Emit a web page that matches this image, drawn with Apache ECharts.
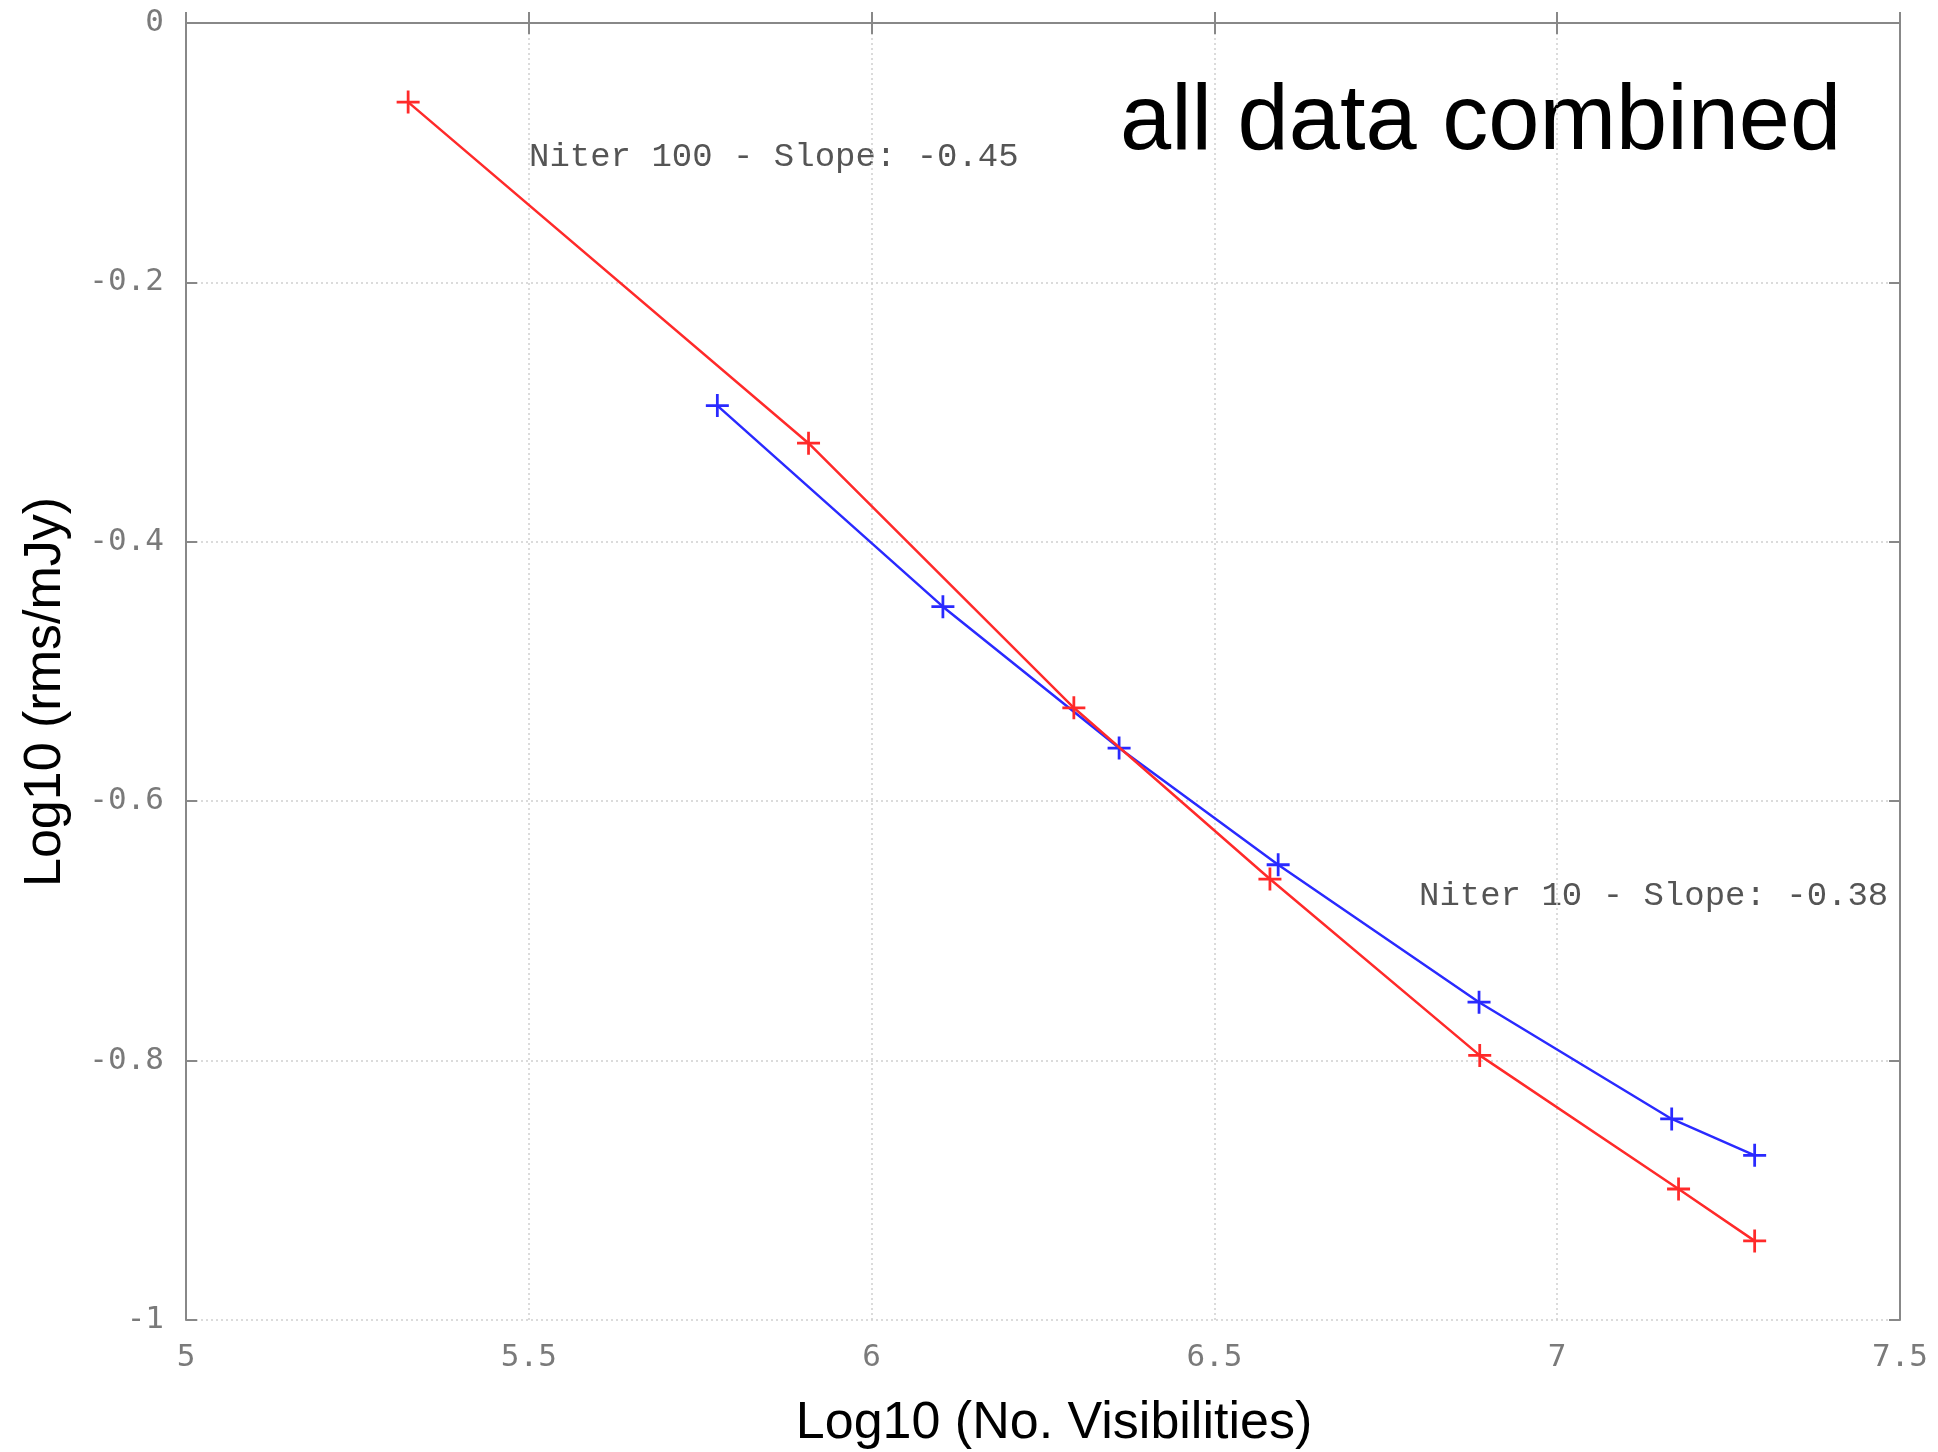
<!DOCTYPE html>
<html>
<head>
<meta charset="utf-8">
<script src="https://cdn.jsdelivr.net/npm/echarts@6/dist/echarts.min.js"></script>
<style>
html,body{margin:0;padding:0;background:#fff;}
#chart{width:1938px;height:1452px;}
</style>
</head>
<body>
<div id="chart"></div>
<script>
// Niter 100 (red)
const niter100X = [5.324, 5.908, 6.295, 6.581, 6.887, 7.177, 7.288];
const niter100Y = [-0.061, -0.324, -0.528, -0.660, -0.796, -0.899, -0.939];
// Niter 10 (blue)
const niter10X = [5.775, 6.104, 6.361, 6.593, 6.886, 7.167, 7.288];
const niter10Y = [-0.295, -0.450, -0.559, -0.649, -0.755, -0.845, -0.873];

const xTicks = [5, 5.5, 6, 6.5, 7, 7.5];
const yTicks = [0, -0.2, -0.4, -0.6, -0.8, -1];

const title = 'all data combined';
const xTitle = 'Log10 (No. Visibilities)';
const yTitle = 'Log10 (rms/mJy)';
const note100 = 'Niter 100 - Slope: -0.45';
const note10 = 'Niter 10 - Slope: -0.38';

function pairs(xs, ys){ return xs.map((x,i)=>[x, ys[i]]); }

const plus = 'path://M4.4,0h1.2v10h-1.2z M0,4.4h10v1.2h-10z';
const tickFont = {fontFamily:'DejaVu Sans Mono', fontSize:31, color:'#7a7a7a'};
const axisLine = {show:true, lineStyle:{color:'#888', width:2}};
const split = {show:true, lineStyle:{color:'#d0d0d0', type:[2,3], width:1.5}};

const chart = echarts.init(document.getElementById('chart'), null, {renderer:'canvas'});
chart.setOption({
  backgroundColor:'#fff',
  animation:false,
  grid:{left:186, right:38, top:23, bottom:132},
  xAxis:[
    {type:'value', min:xTicks[0], max:xTicks[xTicks.length-1], interval:0.5, position:'bottom',
     axisLine:axisLine, axisTick:{show:true, inside:true, length:11, lineStyle:{color:'#888', width:2}},
     axisLabel:Object.assign({margin:22}, tickFont), splitLine:split},
    {type:'value', min:xTicks[0], max:xTicks[xTicks.length-1], interval:0.5, position:'top',
     axisLine:axisLine, axisTick:{show:true, inside:true, length:11, lineStyle:{color:'#888', width:2}},
     axisLabel:{show:false}, splitLine:{show:false}}
  ],
  yAxis:[
    {type:'value', min:yTicks[yTicks.length-1], max:yTicks[0], interval:0.2, position:'left',
     axisLine:axisLine, axisTick:{show:true, inside:true, length:11, lineStyle:{color:'#888', width:2}},
     axisLabel:Object.assign({margin:22}, tickFont), splitLine:split},
    {type:'value', min:yTicks[yTicks.length-1], max:yTicks[0], interval:0.2, position:'right',
     axisLine:axisLine, axisTick:{show:true, inside:true, length:11, lineStyle:{color:'#888', width:2}},
     axisLabel:{show:false}, splitLine:{show:false}}
  ],
  series:[
    {type:'line', name:'Niter 100', data:pairs(niter100X, niter100Y), xAxisIndex:0, yAxisIndex:0,
     symbol:plus, symbolSize:23, showAllSymbol:true,
     lineStyle:{color:'#ff2a2a', width:2.5}, itemStyle:{color:'#ff2a2a'}, z:3},
    {type:'line', name:'Niter 10', data:pairs(niter10X, niter10Y), xAxisIndex:0, yAxisIndex:0,
     symbol:plus, symbolSize:23, showAllSymbol:true,
     lineStyle:{color:'#2a2aff', width:2.5}, itemStyle:{color:'#2a2aff'}, z:2}
  ],
  graphic:[
    {type:'text', x:1120, y:124, style:{text:title, fontFamily:'Liberation Sans', fontSize:92, fill:'#000', align:'left', verticalAlign:'middle'}},
    {type:'text', x:1054, y:1424, style:{text:xTitle, fontFamily:'Liberation Sans', fontSize:52, fill:'#000', align:'center', verticalAlign:'middle'}},
    {type:'text', x:46, y:692, rotation:Math.PI/2, style:{text:yTitle, fontFamily:'Liberation Sans', fontSize:52, fill:'#000', align:'center', verticalAlign:'middle'}},
    {type:'text', x:529, y:157, style:{text:note100, fontFamily:'Liberation Mono', fontSize:34, fill:'#555', align:'left', verticalAlign:'middle'}},
    {type:'text', x:1419, y:896, style:{text:note10, fontFamily:'Liberation Mono', fontSize:34, fill:'#555', align:'left', verticalAlign:'middle'}}
  ]
});
</script>
</body>
</html>
